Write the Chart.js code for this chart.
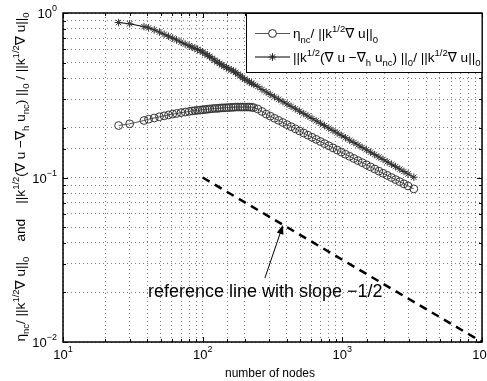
<!DOCTYPE html>
<html><head><meta charset="utf-8">
<script src="https://cdn.jsdelivr.net/npm/chart.js@4.4.1/dist/chart.umd.min.js"></script>
<style>html,body{margin:0;padding:0;background:#fff;}#wrap{width:487px;height:381px;}</style>
</head><body><div id="wrap"><canvas id="c" width="487" height="381"></canvas></div>
<script>
// ---- data ----
const nodes = [25,30,38,41,45,49,53,57,61,65,70,75,80,84,88,92,96,100,104,108,112,117,122,127,132,137,142,148,154,160,166,172,179,186,193,200,208,216,224,232,248,266,285,305,327,350,375,402,430,461,494,529,567,607,650,697,746,800,857,918,983,1053,1128,1209,1295,1387,1486,1592,1705,1827,1957,2096,2246,2406,2577,2761,2958,3250];
const etaRel = [0.207,0.212,0.222,0.226,0.230,0.234,0.237,0.240,0.243,0.245,0.248,0.250,0.252,0.254,0.255,0.256,0.257,0.258,0.259,0.260,0.261,0.262,0.263,0.263,0.264,0.265,0.265,0.266,0.266,0.267,0.267,0.268,0.268,0.268,0.268,0.268,0.268,0.268,0.267,0.266,0.261,0.252,0.243,0.236,0.229,0.2224,0.216,0.2096,0.2036,0.1976,0.1918,0.1863,0.1808,0.1756,0.1705,0.1654,0.1607,0.1559,0.1514,0.1469,0.1427,0.1385,0.1345,0.1305,0.1267,0.1231,0.1195,0.1160,0.1126,0.1093,0.1061,0.1030,0.1000,0.0971,0.0943,0.0915,0.0888,0.0853];
const errRel = [0.875,0.860,0.826,0.812,0.790,0.766,0.742,0.722,0.704,0.686,0.665,0.647,0.632,0.620,0.610,0.600,0.590,0.578,0.566,0.555,0.544,0.530,0.517,0.504,0.494,0.484,0.475,0.466,0.458,0.451,0.444,0.435,0.425,0.415,0.404,0.396,0.388,0.381,0.374,0.368,0.357,0.343,0.331,0.320,0.309,0.299,0.289,0.280,0.2706,0.2615,0.2528,0.2445,0.2363,0.2285,0.2210,0.2136,0.2066,0.1996,0.1930,0.1866,0.1805,0.1745,0.1687,0.1631,0.1577,0.1524,0.1474,0.1425,0.1378,0.1332,0.1288,0.1245,0.1204,0.1164,0.1125,0.1088,0.1052,0.1004];
const refX = [100, 10000];
const refY = [0.1, 0.01];
const xTickValues = [10, 100, 1000, 10000];
const xTickExp = ['1', '2', '3', '4'];
const yTickValues = [1, 0.1, 0.01];
const yTickExp = ['0', '\u22121', '\u22122'];
const xAxisTitle = 'number of nodes';
const annotText = 'reference line with slope \u22121/2';
const annotAt = [40.6, 0.0188];
const arrowFrom = [279, 0.0245];
const arrowTo = [376, 0.0514];
const legend1 = [{t:'\u03b7'},{t:'nc',sub:1},{t:'/ ||k'},{t:'1/2',sup:1},{t:'\u2207 u||'},{t:'0',sub:1}];
const legend2 = [{t:'||k'},{t:'1/2',sup:1},{t:'(\u2207 u \u2212\u2207'},{t:'h',sub:1},{t:' u'},{t:'nc',sub:1},{t:') ||'},{t:'0',sub:1},{t:'/ ||k'},{t:'1/2',sup:1},{t:'\u2207 u||'},{t:'0',sub:1}];
const yTitle = [{t:'\u03b7'},{t:'nc',sub:1},{t:'/ ||k'},{t:'1/2',sup:1},{t:'\u2207 u||'},{t:'0',sub:1},{t:'    and    ||k'},{t:'1/2',sup:1},{t:'(\u2207 u \u2212\u2207'},{t:'h',sub:1},{t:' u'},{t:'nc',sub:1},{t:') ||'},{t:'0',sub:1},{t:' / ||k'},{t:'1/2',sup:1},{t:'\u2207 u||'},{t:'0',sub:1}];

const FONT = "'Liberation Sans', 'DejaVu Sans', Arial, sans-serif";

function richWidth(ctx, segs, f, fs) {
  let w = 0;
  for (const s of segs) { ctx.font = ((s.sub||s.sup) ? fs : f) + 'px ' + FONT; w += ctx.measureText(s.t).width; }
  return w;
}
function drawRich(ctx, segs, x, y, f, fs) {
  let cx = x;
  ctx.textAlign = 'left'; ctx.textBaseline = 'alphabetic';
  for (const s of segs) {
    ctx.font = ((s.sub||s.sup) ? fs : f) + 'px ' + FONT;
    const dy = s.sub ? f*0.36 : (s.sup ? -f*0.42 : 0);
    ctx.fillText(s.t, cx, y + dy);
    cx += ctx.measureText(s.t).width;
  }
}

const overlay = {
  id: 'overlay',
  afterDraw(chart) {
    const ctx = chart.ctx, a = chart.chartArea, xs = chart.scales.x, ys = chart.scales.y;
    ctx.save();
    // inward tick marks
    ctx.strokeStyle = '#000'; ctx.lineWidth = 1;
    ctx.beginPath();
    for (const t of xs.ticks) {
      const p = Math.round(xs.getPixelForValue(t.value)) + 0.5;
      const L = xTickValues.includes(t.value) ? 5 : 3;
      ctx.moveTo(p, a.bottom); ctx.lineTo(p, a.bottom - L);
      ctx.moveTo(p, a.top); ctx.lineTo(p, a.top + L);
    }
    for (const t of ys.ticks) {
      const p = Math.round(ys.getPixelForValue(t.value)) + 0.5;
      const L = yTickValues.some(v => Math.abs(v - t.value) < 1e-9) ? 5 : 3;
      ctx.moveTo(a.left, p); ctx.lineTo(a.left + L, p);
      ctx.moveTo(a.right, p); ctx.lineTo(a.right - L, p);
    }
    ctx.stroke();
    // frame
    ctx.lineWidth = 1.5;
    ctx.strokeRect(a.left, a.top, a.right - a.left, a.bottom - a.top);
    ctx.fillStyle = '#000';
    // x tick labels
    const tf = 13, ef = 9;
    xTickValues.forEach((v, i) => {
      ctx.font = tf + 'px ' + FONT;
      const w1 = ctx.measureText('10').width;
      ctx.font = ef + 'px ' + FONT;
      const w2 = ctx.measureText(xTickExp[i]).width;
      const cx = xs.getPixelForValue(v) - (w1 + w2) / 2;
      ctx.textAlign = 'left'; ctx.textBaseline = 'alphabetic';
      ctx.font = tf + 'px ' + FONT; ctx.fillText('10', cx, 358.5);
      ctx.font = ef + 'px ' + FONT; ctx.fillText(xTickExp[i], cx + w1, 352);
    });
    // y tick labels
    yTickValues.forEach((v, i) => {
      ctx.font = ef + 'px ' + FONT;
      const w2 = ctx.measureText(yTickExp[i]).width;
      ctx.font = tf + 'px ' + FONT;
      const w1 = ctx.measureText('10').width;
      const right = 57;
      const py = ys.getPixelForValue(v);
      ctx.textAlign = 'left'; ctx.textBaseline = 'alphabetic';
      ctx.font = tf + 'px ' + FONT; ctx.fillText('10', right - w2 - w1, py + 5);
      ctx.font = ef + 'px ' + FONT; ctx.fillText(yTickExp[i], right - w2, py - 2);
    });
    // x axis title
    ctx.font = '12px ' + FONT; ctx.textAlign = 'center'; ctx.textBaseline = 'alphabetic';
    ctx.fillText(xAxisTitle, 270, 376.5);
    // y axis title
    ctx.save();
    ctx.translate(24.5, 177);
    ctx.rotate(-Math.PI / 2);
    const wy = richWidth(ctx, yTitle, 13.6, 9.5);
    drawRich(ctx, yTitle, -wy / 2, 0, 13.6, 9.5);
    ctx.restore();
    // annotation text
    ctx.font = '18px ' + FONT; ctx.textAlign = 'left'; ctx.textBaseline = 'alphabetic';
    ctx.fillText(annotText, xs.getPixelForValue(annotAt[0]), ys.getPixelForValue(annotAt[1]));
    // arrow
    const x1 = xs.getPixelForValue(arrowFrom[0]), y1 = ys.getPixelForValue(arrowFrom[1]);
    const x2 = xs.getPixelForValue(arrowTo[0]), y2 = ys.getPixelForValue(arrowTo[1]);
    const ang = Math.atan2(y2 - y1, x2 - x1);
    ctx.lineWidth = 1; ctx.strokeStyle = '#000';
    ctx.beginPath(); ctx.moveTo(x1, y1); ctx.lineTo(x2 - 6 * Math.cos(ang), y2 - 6 * Math.sin(ang)); ctx.stroke();
    ctx.beginPath();
    ctx.moveTo(x2, y2);
    ctx.lineTo(x2 - 9 * Math.cos(ang) + 3.5 * Math.sin(ang), y2 - 9 * Math.sin(ang) - 3.5 * Math.cos(ang));
    ctx.lineTo(x2 - 9 * Math.cos(ang) - 3.5 * Math.sin(ang), y2 - 9 * Math.sin(ang) + 3.5 * Math.cos(ang));
    ctx.closePath(); ctx.fill();
    // legend
    const lx = 246.5, ly = 13.5, lw = a.right - 246.5, lh = 59;
    ctx.fillStyle = '#fff'; ctx.fillRect(lx, ly, lw, lh);
    ctx.strokeStyle = '#000'; ctx.lineWidth = 1; ctx.strokeRect(lx, ly, lw, lh);
    const rows = [{y: 33.5, segs: legend1, col: '#555', mark: 'circle'}, {y: 57, segs: legend2, col: '#000', mark: 'star'}];
    rows.forEach(r => {
      ctx.strokeStyle = r.col; ctx.lineWidth = 1;
      ctx.beginPath(); ctx.moveTo(255, r.y); ctx.lineTo(290, r.y); ctx.stroke();
      ctx.strokeStyle = '#222';
      if (r.mark === 'circle') {
        ctx.fillStyle = '#fff';
        ctx.beginPath(); ctx.arc(272.5, r.y, 3.9, 0, Math.PI * 2); ctx.fill(); ctx.stroke();
      } else {
        ctx.beginPath();
        for (let k = 0; k < 4; k++) {
          const an = k * Math.PI / 4;
          ctx.moveTo(272.5 - 3.8 * Math.cos(an), r.y - 3.8 * Math.sin(an));
          ctx.lineTo(272.5 + 3.8 * Math.cos(an), r.y + 3.8 * Math.sin(an));
        }
        ctx.stroke();
      }
      ctx.fillStyle = '#000';
      drawRich(ctx, r.segs, 293, r.y + 4.5, 13.6, 9.5);
    });
    ctx.restore();
  }
};

const gridOpts = { color: 'rgba(0,0,0,0.5)', lineWidth: 1, drawTicks: false };
new Chart(document.getElementById('c'), {
  type: 'line',
  data: {
    datasets: [
      { label: 'eta', data: nodes.map((x, i) => ({x, y: etaRel[i]})), borderColor: '#555', borderWidth: 1,
        pointStyle: 'circle', pointRadius: 3.9, pointBorderColor: '#333', pointBackgroundColor: 'rgba(0,0,0,0)', pointBorderWidth: 1, tension: 0 },
      { label: 'err', data: nodes.map((x, i) => ({x, y: errRel[i]})), borderColor: '#000', borderWidth: 1,
        pointStyle: 'star', pointRadius: 3.8, pointBorderColor: '#333', pointBackgroundColor: '#333', pointBorderWidth: 1, tension: 0 },
      { label: 'ref', data: refX.map((x, i) => ({x, y: refY[i]})), borderColor: '#000', borderWidth: 2.5,
        borderDash: [8, 6], pointRadius: 0, tension: 0 }
    ]
  },
  options: {
    responsive: false, animation: false, devicePixelRatio: 1,
    layout: { padding: { left: 63, right: 5, top: 13, bottom: 39 } },
    plugins: { legend: { display: false }, tooltip: { enabled: false } },
    scales: {
      x: { type: 'logarithmic', min: 10, max: 10000, ticks: { display: false, autoSkip: false },
           grid: gridOpts, border: { display: false, dash: [1, 3] } },
      y: { type: 'logarithmic', min: 0.01, max: 1, ticks: { display: false, autoSkip: false },
           grid: gridOpts, border: { display: false, dash: [1, 3] } }
    }
  },
  plugins: [overlay]
});
</script></body></html>
